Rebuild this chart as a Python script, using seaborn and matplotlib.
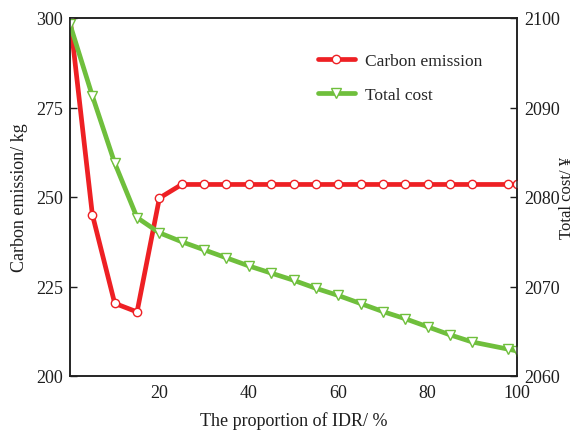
import matplotlib
matplotlib.use("Agg")
import matplotlib.pyplot as plt
import seaborn as sns
import pandas as pd
from matplotlib.lines import Line2D

sns.set_theme(style="white")
plt.rcParams['font.family'] = ['Liberation Serif', 'DejaVu Serif']

proportion = [0, 5, 10, 15, 20, 25, 30, 35, 40, 45, 50, 55, 60, 65, 70, 75, 80, 85, 90, 98, 100]
carbon = [300, 245.1, 220.3, 217.9, 249.7, 253.5, 253.5, 253.5, 253.5, 253.5, 253.5,
          253.5, 253.5, 253.5, 253.5, 253.5, 253.5, 253.5, 253.5, 253.5, 253.5]
cost = [2099.3, 2091.3, 2083.8, 2077.7, 2076.0, 2075.0, 2074.1, 2073.2, 2072.3, 2071.5,
        2070.7, 2069.8, 2069.0, 2068.1, 2067.2, 2066.4, 2065.5, 2064.6, 2063.8, 2063.0, 2062.8]

df = pd.DataFrame({"p": proportion, "carbon": carbon, "cost": cost})

red = "#ee2024"
green = "#6fbf3c"
ink = "#1e1e1e"

fig = plt.figure(figsize=(5.79, 4.31), dpi=100)
ax = fig.add_axes([70/579, 1-377/431, (517-70)/579, (377-19)/431])
ax2 = ax.twinx()

mk_red = dict(marker="o", markersize=6, markerfacecolor="white",
              markeredgecolor=red, markeredgewidth=1.0)
mk_green = dict(marker="v", markersize=7, markerfacecolor="white",
                markeredgecolor=green, markeredgewidth=1.0)

sns.lineplot(data=df, x="p", y="carbon", ax=ax, color=red, lw=3.4, zorder=3, **mk_red)
sns.lineplot(data=df, x="p", y="cost", ax=ax2, color=green, lw=3.4, zorder=2, **mk_green)

ax.set_xlim(0, 100)
ax.set_ylim(200, 300)
ax2.set_ylim(2060, 2100)
ax.set_xticks([20, 40, 60, 80, 100])
ax.set_yticks([200, 225, 250, 275, 300])
ax2.set_yticks([2060, 2070, 2080, 2090, 2100])

for a in (ax, ax2):
    a.tick_params(direction="in", length=5, width=1, labelsize=13, colors=ink)
    for s in a.spines.values():
        s.set_color(ink)
        s.set_linewidth(1.1)
ax.tick_params(axis="x", pad=6)
ax.tick_params(axis="y", pad=5)
ax2.tick_params(axis="y", pad=5)

ax.set_xlabel("The proportion of IDR/ %", fontsize=13, color=ink, labelpad=7)
ax.set_ylabel("Carbon emission/ kg", fontsize=13, color=ink)
ax2.set_ylabel("Total cost/ ¥", fontsize=12, color=ink)
ax.yaxis.set_label_coords(-0.095, 0.5)
ax2.yaxis.set_label_coords(1.095, 0.5)

handles = [
    Line2D([], [], color=red, lw=3.4, **mk_red),
    Line2D([], [], color=green, lw=3.4, **mk_green),
]
ax.legend(handles, ["Carbon emission", "Total cost"], loc="upper left",
          bbox_to_anchor=(0.52, 0.945), frameon=False, fontsize=12.5,
          handlelength=2.1, handletextpad=0.6, labelspacing=1.0)

fig.savefig("out.png", dpi=100)
